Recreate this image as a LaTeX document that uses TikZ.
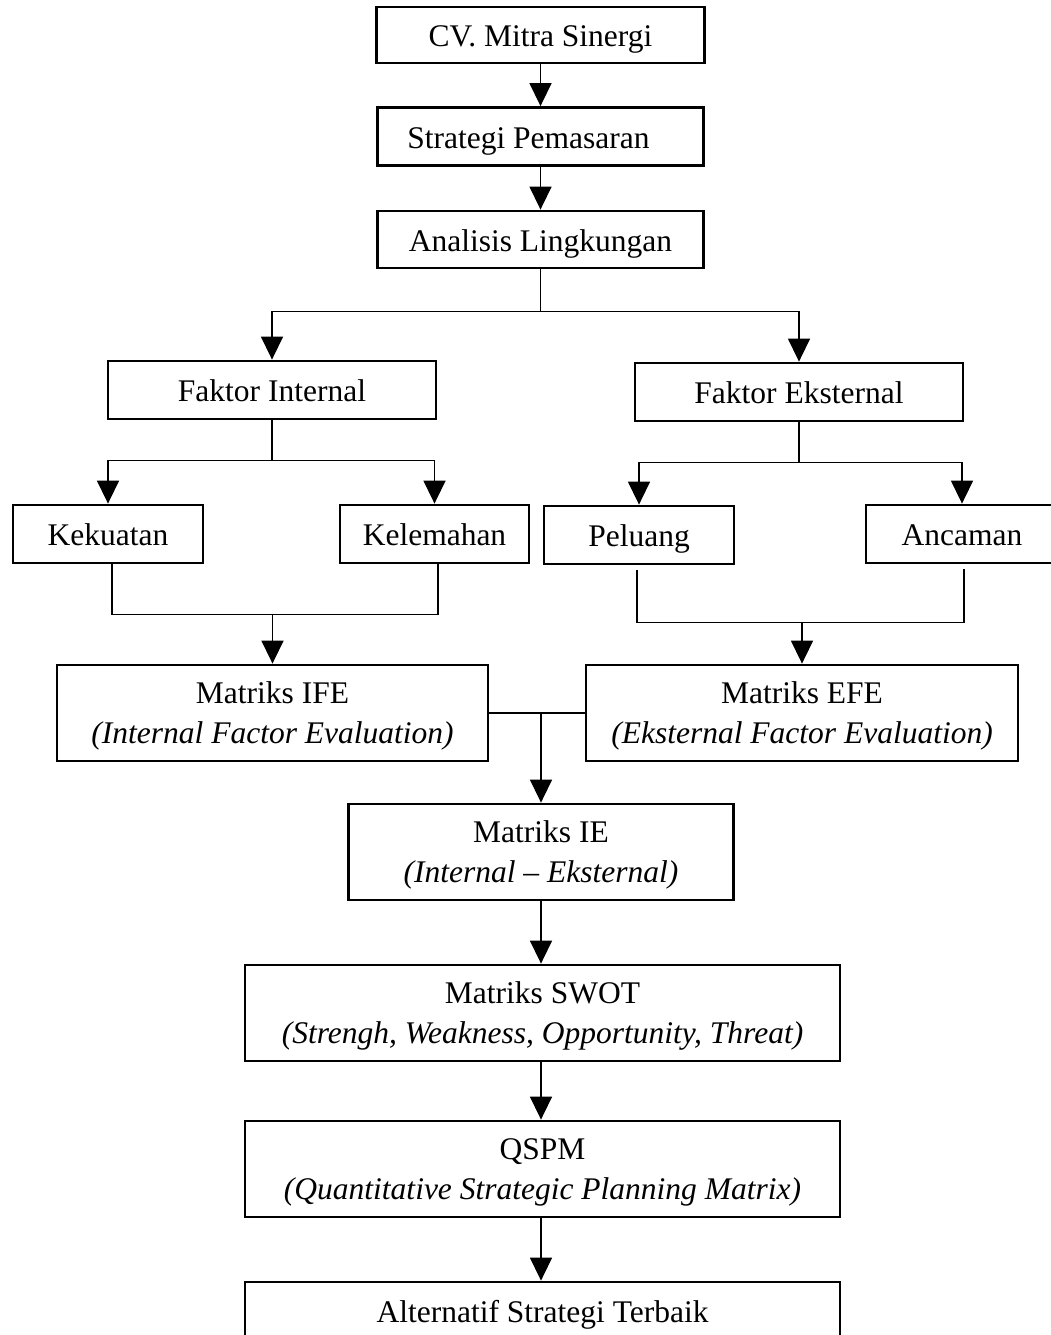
\documentclass[tikz,border=0pt]{standalone}
\usepackage{fontspec}
\setmainfont{Liberation Serif}
\usetikzlibrary{arrows.meta}
\newcommand{\onestrut}{\rule[-6.6pt]{0pt}{36.6pt}}
\newcommand{\topstrut}{\rule{0pt}{28pt}}
\newcommand{\botstrut}{\rule[-8pt]{0pt}{8pt}}
\begin{document}
\begin{tikzpicture}[x=1pt,y=-1pt,
  box/.style={draw, line width=2.8pt, inner sep=0pt, align=center,
    font=\fontsize{31.5}{40}\selectfont},
  conn/.style={line width=1.5pt},
  tip/.tip={Triangle[width=22pt,length=23pt]},
  arr/.style={conn, -tip},
  arr2/.style={conn, tip-tip},
]
\fill[white] (0,0) rectangle (1051,1335);
\useasboundingbox (0,0) rectangle (1051,1335);

\node[box, minimum width=328pt, minimum height=56pt] (cv)  at (540.5,35)   {\onestrut CV. Mitra Sinergi};
\node[box, minimum width=326pt, minimum height=58pt] (sp)  at (540.5,136.5) {\onestrut Strategi Pemasaran\hspace*{24pt}};
\node[box, minimum width=326pt, minimum height=57pt] (al)  at (540.5,239.5) {\onestrut Analisis Lingkungan};

\node[box, minimum width=328pt, minimum height=58pt] (fi)  at (272,390)   {\onestrut Faktor Internal};
\node[box, minimum width=328pt, minimum height=58pt] (fe)  at (799,392)   {\onestrut Faktor Eksternal};

\node[box, minimum width=190pt, minimum height=58pt] (kek) at (108,534)   {\onestrut Kekuatan};
\node[box, minimum width=189pt, minimum height=58pt] (kel) at (434.5,534) {\onestrut Kelemahan};
\node[box, minimum width=190pt, minimum height=58pt] (pel) at (639,535)   {\onestrut Peluang};
\node[box, minimum width=192pt, minimum height=58pt] (anc) at (962,534)   {\onestrut Ancaman};

\node[box, minimum width=431pt, minimum height=96pt] (ife) at (272.5,713)
  {\topstrut Matriks IFE\\\textit{(Internal Factor Evaluation)}\botstrut};
\node[box, minimum width=432pt, minimum height=96pt] (efe) at (802,713)
  {\topstrut Matriks EFE\\\textit{(Eksternal Factor Evaluation)}\botstrut};
\node[box, minimum width=385pt, minimum height=96pt] (ie)  at (541,852)
  {\topstrut Matriks IE\\\textit{(Internal \textendash{} Eksternal)}\botstrut};
\node[box, minimum width=595pt, minimum height=96pt] (swot) at (542.5,1013)
  {\topstrut Matriks SWOT\\\textit{(Strengh, Weakness, Opportunity, Threat)}\botstrut};
\node[box, minimum width=595pt, minimum height=96pt] (qspm) at (542.5,1169)
  {\topstrut QSPM\\\textit{(Quantitative Strategic Planning Matrix)}\botstrut};
\node[box, minimum width=595pt, minimum height=58pt] (alt) at (542.5,1311)
  {\onestrut Alternatif Strategi Terbaik};

% top chain
\draw[arr] (cv.south) -- (cv.south |- sp.north);
\draw[arr] (sp.south) -- (sp.south |- al.north);

% split to internal / external
\draw[conn] (al.south) -- ++(0,42) coordinate (s1);
\draw[arr2] (fi.north) -- (fi.north |- s1) -- (fe.north |- s1) -- (fe.north);

% internal split
\draw[conn] (fi.south) -- ++(0,40) coordinate (s2);
\draw[arr2] (kek.north) -- (kek.north |- s2) -- (kel.north |- s2) -- (kel.north);

% external split
\draw[conn] (fe.south) -- ++(0,40) coordinate (s3);
\draw[arr2] (pel.north) -- (pel.north |- s3) -- (anc.north |- s3) -- (anc.north);

% join kekuatan / kelemahan
\draw[conn] ([xshift=4pt]kek.south) -- ++(0,50) coordinate (j1) -| ([xshift=3.5pt]kel.south);
\draw[arr] (ife.north |- j1) -- (ife.north);

% join peluang / ancaman
\draw[conn] ([xshift=-2pt,yshift=-5pt]pel.south) -- ++(0,52) coordinate (j2) -| ([xshift=2pt,yshift=-5pt]anc.south);
\draw[arr] (efe.north |- j2) -- (efe.north);

% IFE - EFE to IE
\draw[conn] (ife.east) -- (efe.west);
\draw[arr] (ie.north |- ife.east) -- (ie.north);

% bottom chain
\draw[arr] (ie.south) -- (ie.south |- swot.north);
\draw[arr] (ie.south |- swot.south) -- (ie.south |- qspm.north);
\draw[arr] (ie.south |- qspm.south) -- (ie.south |- alt.north);
\end{tikzpicture}
\end{document}
